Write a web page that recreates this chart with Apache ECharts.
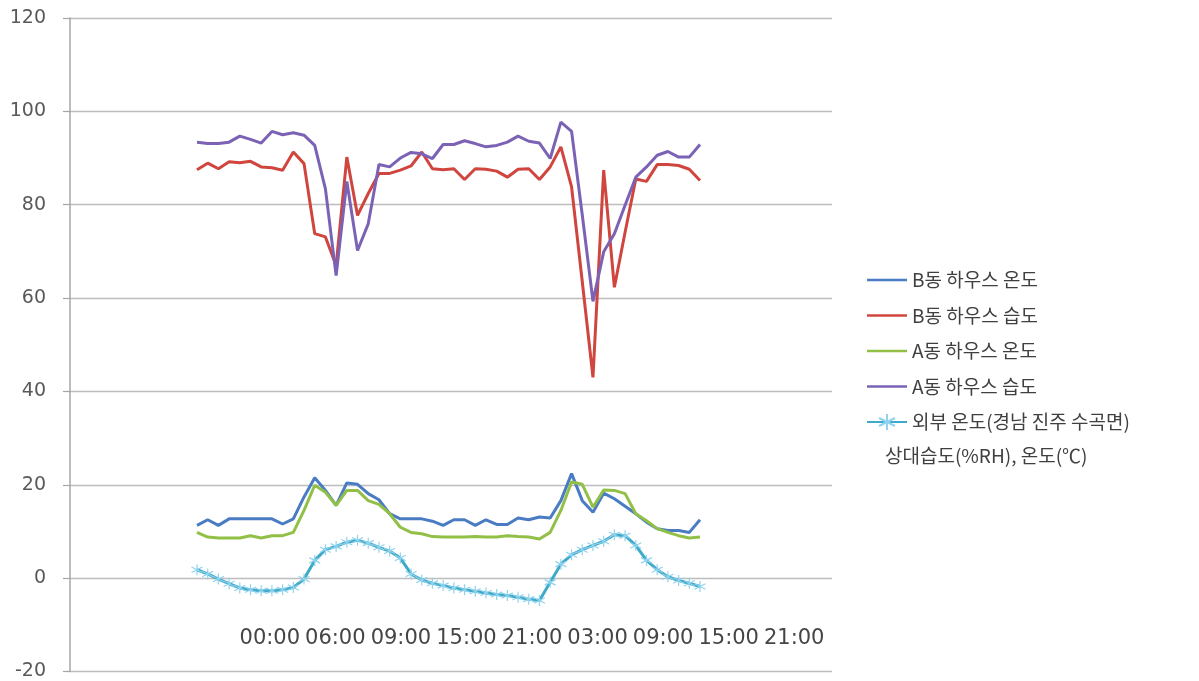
<!DOCTYPE html>
<html>
<head>
<meta charset="utf-8">
<script src="https://cdn.jsdelivr.net/npm/echarts@6/dist/echarts.min.js"></script>
<style>
  html, body { margin: 0; padding: 0; background: #ffffff; }
  #chart { width: 1199px; height: 681px; }
</style>
</head>
<body>
<div id="chart"></div>
<script>
// Hourly readings over two days (48 samples per series)
const seriesNames = ['B동 하우스 온도', 'B동 하우스 습도', 'A동 하우스 온도', 'A동 하우스 습도', '외부 온도(경남 진주 수곡면)'];

const bTemp = [11.3, 12.5, 11.3, 12.7, 12.7, 12.7, 12.7, 12.7, 11.6, 12.7, 17.4, 21.5, 18.8, 15.6, 20.4, 20.1,
  18.1, 16.8, 13.8, 12.7, 12.7, 12.7, 12.2, 11.3, 12.5, 12.5, 11.3, 12.5, 11.5, 11.5, 12.9, 12.5,
  13.1, 12.9, 16.6, 22.4, 16.6, 14.1, 18.2, 17.0, 15.4, 13.8, 12.0, 10.6, 10.2, 10.2, 9.8, 12.5];

const bHum = [87.5, 88.9, 87.7, 89.2, 89.0, 89.3, 88.1, 87.9, 87.4, 91.3, 88.8, 73.8, 73.1, 67.0, 90.2, 77.7,
  82.4, 86.7, 86.7, 87.4, 88.3, 91.3, 87.7, 87.5, 87.7, 85.4, 87.7, 87.6, 87.2, 85.9, 87.6, 87.7,
  85.4, 88.1, 92.4, 83.8, 63.5, 43.0, 87.4, 62.3, 74.1, 85.5, 85.0, 88.6, 88.6, 88.4, 87.6, 85.2];

const aTemp = [9.8, 8.8, 8.6, 8.6, 8.6, 9.1, 8.6, 9.1, 9.1, 9.8, 14.5, 19.9, 18.4, 15.6, 18.8, 18.8,
  16.6, 15.8, 13.8, 10.9, 9.8, 9.5, 8.9, 8.8, 8.8, 8.8, 8.9, 8.8, 8.8, 9.1, 8.9, 8.8,
  8.4, 9.8, 14.5, 20.6, 20.1, 15.2, 18.9, 18.8, 18.1, 13.8, 12.3, 10.6, 9.8, 9.1, 8.6, 8.8];

const aHum = [93.4, 93.1, 93.1, 93.4, 94.7, 94.0, 93.2, 95.7, 95.0, 95.4, 94.9, 92.7, 83.4, 64.8, 85.0, 70.2,
  75.9, 88.6, 88.1, 90.0, 91.2, 90.9, 89.9, 92.9, 92.9, 93.7, 93.1, 92.4, 92.7, 93.4, 94.7, 93.6,
  93.2, 89.9, 97.7, 95.7, 77.8, 59.3, 69.9, 73.8, 79.9, 85.9, 88.1, 90.6, 91.4, 90.2, 90.2, 92.9];

const outTemp = [1.8, 0.9, -0.2, -1.2, -2.1, -2.5, -2.7, -2.7, -2.5, -2.0, -0.2, 3.8, 6.1, 6.8, 7.7, 8.1,
  7.5, 6.6, 5.8, 4.3, 0.9, -0.4, -1.1, -1.6, -2.1, -2.5, -2.8, -3.2, -3.5, -3.7, -4.1, -4.5,
  -4.8, -0.9, 3.0, 5.0, 6.1, 7.0, 7.9, 9.3, 9.1, 7.0, 3.8, 1.8, 0.3, -0.5, -1.1, -1.8];

// Time labels shown under the plot
const tickLabels = ['00:00', '06:00', '09:00', '15:00', '21:00', '03:00', '09:00', '15:00', '21:00'];

const yTicks = { min: -20, max: 120, step: 20 };
const axisTitle = '상대습도(%RH), 온도(℃)';

const colors = ['#4a7cc4', '#d0453d', '#92c047', '#7b62b5', '#3fa9c8'];
const starColor = '#8fd3ee';

// plot frame in pixels, and where the first / last sample sit horizontally
const plotLeft = 70, plotRight = 832;
const firstX = 197, lastX = 700;
const step = (lastX - firstX) / (bTemp.length - 1);
const xMin = -(firstX - plotLeft) / step;
const xMax = xMin + (plotRight - plotLeft) / step;

const toPairs = arr => arr.map((v, i) => [i, v]);
const asterisk = 'path://M5,0L5,10M0.7,2.5L9.3,7.5M0.7,7.5L9.3,2.5';
// plain stroke used as the legend key of the unmarked lines
const legendBar = 'path://M0,0L40,0L40,2.4L0,2.4Z';

function lineSeries(idx, values, extra) {
  return Object.assign({
    name: seriesNames[idx],
    type: 'line',
    xAxisIndex: 0,
    yAxisIndex: 0,
    data: toPairs(values),
    symbol: 'none',
    smooth: false,
    lineStyle: { color: colors[idx], width: 3 },
    itemStyle: { color: colors[idx] },
    emphasis: { disabled: true },
    animation: false
  }, extra || {});
}

const chart = echarts.init(document.getElementById('chart'), null, { renderer: 'canvas' });

chart.setOption({
  backgroundColor: '#ffffff',
  animation: false,
  grid: [
    { left: plotLeft, right: 1199 - plotRight, top: 18, bottom: 8, containLabel: false },
    { left: 237, width: 590, top: 600, height: 20, containLabel: false }
  ],
  xAxis: [
    {
      type: 'value', gridIndex: 0, min: xMin, max: xMax,
      axisLine: { show: false }, axisTick: { show: false },
      axisLabel: { show: false }, splitLine: { show: false }
    },
    {
      type: 'category', gridIndex: 1, data: tickLabels, boundaryGap: true,
      axisLine: { show: false }, axisTick: { show: false }, splitLine: { show: false },
      axisLabel: {
        interval: 0, margin: 8, color: '#454545',
        fontFamily: 'DejaVu Sans', fontSize: 21
      }
    }
  ],
  yAxis: [
    {
      type: 'value', gridIndex: 0, min: yTicks.min, max: yTicks.max, interval: yTicks.step,
      axisLine: { show: true, onZero: false, lineStyle: { color: '#a6a6a6', width: 1.5 } },
      axisTick: { show: true, inside: false, length: 7, lineStyle: { color: '#a6a6a6', width: 1.2 } },
      axisLabel: { color: '#595959', fontFamily: 'DejaVu Sans', fontSize: 19, margin: 24 },
      splitLine: { show: true, lineStyle: { color: '#bdbdbd', width: 1.4 } }
    },
    { type: 'value', gridIndex: 1, show: false }
  ],
  legend: {
    orient: 'vertical',
    left: 866,
    top: 270,
    padding: 0,
    itemWidth: 40,
    itemHeight: 20,
    itemGap: 15.5,
    selectedMode: false,
    data: seriesNames.map((name, i) => i < 4 ? { name: name, icon: legendBar } : { name: name }),
    textStyle: {
      color: '#404040', fontFamily: 'Noto Sans CJK KR', fontSize: 19, lineHeight: 20
    }
  },
  graphic: [
    {
      type: 'text', left: 885, top: 446,
      style: {
        text: axisTitle, fill: '#404040',
        font: '19px "Noto Sans CJK KR"'
      }
    }
  ],
  series: [
    lineSeries(0, bTemp),
    lineSeries(1, bHum),
    lineSeries(2, aTemp),
    lineSeries(3, aHum),
    lineSeries(4, outTemp, {
      symbol: asterisk,
      symbolSize: 11,
      showSymbol: true,
      itemStyle: { color: 'rgba(0,0,0,0)', borderColor: starColor, borderWidth: 1.2 },
      lineStyle: { color: colors[4], width: 3 }
    })
  ]
});
</script>
</body>
</html>
